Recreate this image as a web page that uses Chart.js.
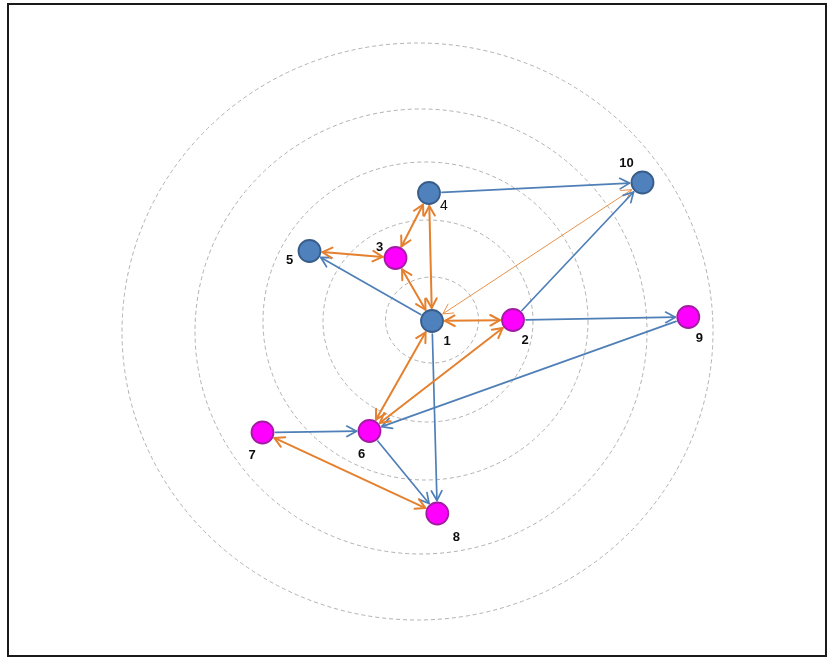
<!DOCTYPE html>
<html>
<head>
<meta charset="utf-8">
<script src="https://cdn.jsdelivr.net/npm/chart.js@4.4.1/dist/chart.umd.min.js"></script>
<style>
  html,body{margin:0;padding:0;background:#fff;}
  #wrap{width:829px;height:659px;}
</style>
</head>
<body>
<div id="wrap"><canvas id="networkChart" width="829" height="659"></canvas></div>
<script>
// nodes, ring centre is (0,0), y goes up
const nodeIds = ['1','2','3','4','5','6','7','8','9','10'];
const nodeX = [4, 85, -32.5, 1, -118.5, -58.5, -165.5, 9.3, 260.3, 214.5];
const nodeY = [0, 1, 63, 128, 70, -110, -111.5, -192.5, 4, 138.5];
const nodeKind = ['core','peer','peer','core','core','peer','peer','peer','peer','core'];

// links by node id
const oneWayLinks = [['4','10'],['2','10'],['1','5'],['2','9'],['9','6'],['7','6'],['6','8'],['1','8']];
const twoWayLinks = [['5','3'],['4','3'],['4','1'],['3','1'],['1','2'],['1','6'],['2','6'],['7','8']];
const thinLinks = [['10','1']];

// dashed rings (outer to inner)
const ringX = [-10.5, -7, -2.5, 0, 4];
const ringY = [-10.5, -10.5, 0, 0, 1];
const ringRx = [295.5, 226, 162.5, 105, 46.5];
const ringRy = [288.5, 222.5, 159, 101, 43];

const labelShift = [[15,20],[12,20],[-16,-11],[15,13],[-20,9],[-8,23.5],[-10.5,23],[19,23.5],[11,21.5],[-16,-19.5]];

function pointsOf(kind){
  const pts=[];
  nodeIds.forEach((id,i)=>{ if(nodeKind[i]==kind) pts.push({x:nodeX[i],y:nodeY[i]}); });
  return pts;
}

function head(ctx,x,y,ang,len){
  ctx.beginPath();
  ctx.moveTo(x-len*Math.cos(ang-0.5), y-len*Math.sin(ang-0.5));
  ctx.lineTo(x,y);
  ctx.lineTo(x-len*Math.cos(ang+0.5), y-len*Math.sin(ang+0.5));
  ctx.stroke();
}

function link(ctx,p1,p2,color,width,both){
  const ang=Math.atan2(p2.y-p1.y,p2.x-p1.x);
  const gap=13;
  const sx=p1.x+Math.cos(ang)*gap, sy=p1.y+Math.sin(ang)*gap;
  const ex=p2.x-Math.cos(ang)*gap, ey=p2.y-Math.sin(ang)*gap;
  ctx.save();
  ctx.strokeStyle=color;
  ctx.lineWidth=width;
  ctx.lineCap='round';
  ctx.lineJoin='round';
  ctx.beginPath();
  ctx.moveTo(sx,sy);
  ctx.lineTo(ex,ey);
  ctx.stroke();
  head(ctx,ex,ey,ang,11);
  if(both) head(ctx,sx,sy,ang+Math.PI,11);
  ctx.restore();
}

const backdrop = {
  id:'backdrop',
  beforeDatasetsDraw(chart){
    const ctx=chart.ctx, xs=chart.scales.x, ys=chart.scales.y;
    const px=v=>xs.getPixelForValue(v), py=v=>ys.getPixelForValue(v);
    const pos=id=>{ const i=nodeIds.indexOf(id); return {x:px(nodeX[i]),y:py(nodeY[i])}; };

    // frame
    ctx.save();
    ctx.strokeStyle='#1a1a1a';
    ctx.lineWidth=2;
    ctx.strokeRect(8,4,818,652);
    ctx.restore();

    // rings
    ctx.save();
    ctx.strokeStyle='#b0b0b0';
    ctx.lineWidth=1;
    ctx.setLineDash([4,3]);
    for(let i=0;i<ringX.length;i++){
      const cx=px(ringX[i]), cy=py(ringY[i]);
      const rx=px(ringX[i]+ringRx[i])-cx, ry=cy-py(ringY[i]+ringRy[i]);
      ctx.beginPath();
      ctx.ellipse(cx,cy,rx,ry,0,0,Math.PI*2);
      ctx.stroke();
    }
    ctx.restore();

    thinLinks.forEach(l=>link(ctx,pos(l[0]),pos(l[1]),'#E8914A',1,true));
    oneWayLinks.forEach(l=>link(ctx,pos(l[0]),pos(l[1]),'#4E7FB6',1.7,false));
    twoWayLinks.forEach(l=>link(ctx,pos(l[0]),pos(l[1]),'#E5802F',2,true));
  },
  afterDatasetsDraw(chart){
    const ctx=chart.ctx, xs=chart.scales.x, ys=chart.scales.y;
    ctx.save();
    ctx.fillStyle='#0d0d0d';
    ctx.textAlign='center';
    ctx.textBaseline='middle';
    nodeIds.forEach((id,i)=>{
      ctx.font = id=='4' ? '14px "Liberation Sans", Arial, sans-serif' : 'bold 13px "Liberation Sans", Arial, sans-serif';
      ctx.fillText(id, xs.getPixelForValue(nodeX[i])+labelShift[i][0], ys.getPixelForValue(nodeY[i])+labelShift[i][1]);
    });
    ctx.restore();
  }
};

new Chart(document.getElementById('networkChart'), {
  type:'scatter',
  data:{
    datasets:[{
      label:'core',
      data:pointsOf('core'),
      pointRadius:11,
      pointBorderWidth:1.8,
      backgroundColor:'#4F81BD',
      borderColor:'#385D8A'
    },{
      label:'peer',
      data:pointsOf('peer'),
      pointRadius:11,
      pointBorderWidth:1.8,
      backgroundColor:'#FF00FF',
      borderColor:'#A21CA2'
    }]
  },
  options:{
    responsive:false,
    animation:false,
    layout:{padding:0,autoPadding:false},
    plugins:{legend:{display:false},tooltip:{enabled:false}},
    scales:{
      x:{type:'linear',min:-428,max:401,display:false},
      y:{type:'linear',min:-338,max:321,display:false}
    }
  },
  plugins:[backdrop]
});
</script>
</body>
</html>
